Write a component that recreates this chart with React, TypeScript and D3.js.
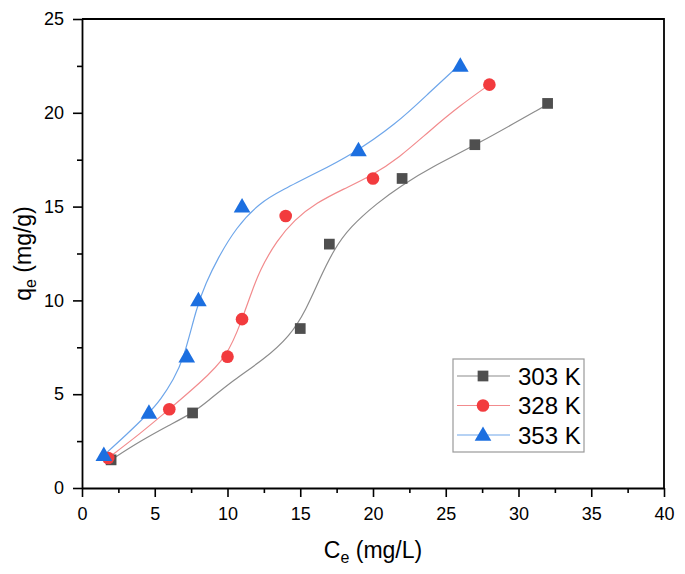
import React, { useEffect, useRef } from 'react';
import * as d3 from 'd3';

const W = 685;
const H = 574;

const xTicks = [0, 5, 10, 15, 20, 25, 30, 35, 40];
const yTicks = [0, 5, 10, 15, 20, 25];
const xMinor = [2.5, 7.5, 12.5, 17.5, 22.5, 27.5, 32.5, 37.5];
const yMinor = [2.5, 7.5, 12.5, 17.5, 22.5];

// measured points
const ce303 = [2, 7.6, 15, 17, 22, 27, 32];
const qe303 = [1.5, 4, 8.5, 13, 16.5, 18.3, 20.5];
const ce328 = [1.8, 6, 10, 11, 14, 20, 28];
const qe328 = [1.6, 4.2, 7, 9, 14.5, 16.5, 21.5];
const ce353 = [1.5, 4.6, 7.2, 8, 11, 19, 26];
const qe353 = [1.75, 4, 7, 10, 15, 18, 22.5];

// fitted curves, traced as (Ce, qe) pairs
const fitCe303 = [2, 4, 6, 7.6, 8.6, 10.4, 12.5, 14.3, 15.4, 16.3, 17.3, 18.4, 20.3, 21.9, 24, 27, 32];
const fitQe303 = [1.5, 2.5, 3.35, 4.0, 4.6, 5.75, 6.85, 8.1, 9.5, 11.1, 12.7, 13.9, 15.2, 16.1, 17.1, 18.25, 20.45];
const fitCe328 = [1.8, 4, 6, 8.1, 10, 11, 11.6, 12.2, 13.4, 14.6, 16.1, 18, 19.8, 21.8, 23.9, 26, 28];
const fitQe328 = [1.6, 2.9, 4.2, 5.6, 7.0, 9.0, 10.3, 11.6, 13.2, 14.3, 15.2, 15.95, 16.6, 17.6, 19.05, 20.4, 21.5];
const fitCe353 = [1.5, 3, 4.6, 5.4, 6.3, 7.0, 7.9, 8.5, 9.3, 10.6, 12.2, 13.8, 16.1, 18.4, 21.6, 23.9, 26];
const fitQe353 = [1.75, 2.8, 4.0, 4.7, 5.8, 6.9, 9.7, 10.9, 12.2, 13.9, 15.2, 15.9, 16.8, 17.7, 19.4, 21.1, 22.6];

const seriesNames = ['303 K', '328 K', '353 K'];
const markerColors = ['#4f4f4f', '#f23b3e', '#1c6fe0'];
const lineColors = ['#8c8c8c', '#f28b8d', '#6ea6ea'];
const symbols = [d3.symbolSquare, d3.symbolCircle, d3.symbolTriangle];
const symbolSizes = [115, 125, 120];

const FONT = 'Arial, "Liberation Sans", sans-serif';

const App = () => {
  const svgRef = useRef<SVGSVGElement>(null);

  useEffect(() => {
    const svg = d3.select(svgRef.current);
    svg.selectAll('*').remove();

    const left = 82, right = 664, top = 19, bottom = 488;
    const x = d3.scaleLinear().domain([0, 40]).range([left, right]);
    const y = d3.scaleLinear().domain([0, 25]).range([bottom, top]);

    // frame
    svg.append('path')
      .attr('d', `M${left},${top}H${right}V${bottom}`)
      .attr('fill', 'none')
      .attr('stroke', '#000')
      .attr('stroke-width', 1.8);

    const styleAxis = (g) => {
      g.attr('font-family', FONT).attr('font-size', 18);
      g.selectAll('.domain').attr('stroke-width', 1.8);
      g.selectAll('.tick line').attr('stroke-width', 1.6);
      g.selectAll('text').attr('fill', '#000');
    };

    svg.append('g')
      .attr('transform', `translate(0,${bottom})`)
      .call(d3.axisBottom(x).tickValues(xMinor).tickSize(5).tickFormat(() => ''))
      .call(g => g.select('.domain').remove())
      .call(styleAxis);
    svg.append('g')
      .attr('transform', `translate(${left},0)`)
      .call(d3.axisLeft(y).tickValues(yMinor).tickSize(5).tickFormat(() => ''))
      .call(g => g.select('.domain').remove())
      .call(styleAxis);

    svg.append('g')
      .attr('transform', `translate(0,${bottom})`)
      .call(d3.axisBottom(x).tickValues(xTicks).tickSize(9).tickSizeOuter(0).tickPadding(10))
      .call(styleAxis);
    svg.append('g')
      .attr('transform', `translate(${left},0)`)
      .call(d3.axisLeft(y).tickValues(yTicks).tickSize(9).tickSizeOuter(0).tickPadding(9))
      .call(styleAxis);

    // axis titles
    const xt = svg.append('text')
      .attr('x', (left + right) / 2)
      .attr('y', 558)
      .attr('text-anchor', 'middle')
      .attr('font-family', FONT)
      .attr('font-size', 23);
    xt.append('tspan').text('C');
    xt.append('tspan').attr('font-size', 16).attr('dy', 5).text('e');
    xt.append('tspan').attr('dy', -5).text(' (mg/L)');

    const yt = svg.append('text')
      .attr('transform', `translate(31,${(top + bottom) / 2}) rotate(-90)`)
      .attr('text-anchor', 'middle')
      .attr('font-family', FONT)
      .attr('font-size', 23);
    yt.append('tspan').text('q');
    yt.append('tspan').attr('font-size', 16).attr('dy', 5).text('e');
    yt.append('tspan').attr('dy', -5).text(' (mg/g)');

    const fits = [
      d3.zip(fitCe303, fitQe303),
      d3.zip(fitCe328, fitQe328),
      d3.zip(fitCe353, fitQe353),
    ];
    const points = [
      d3.zip(ce303, qe303),
      d3.zip(ce328, qe328),
      d3.zip(ce353, qe353),
    ];

    const line = d3.line()
      .x(d => x(d[0]))
      .y(d => y(d[1]))
      .curve(d3.curveBasis);

    fits.forEach((f, i) => {
      svg.append('path')
        .datum(f)
        .attr('fill', 'none')
        .attr('stroke', lineColors[i])
        .attr('stroke-width', 1.2)
        .attr('d', line);
    });

    points.forEach((pts, i) => {
      const sym = d3.symbol().type(symbols[i]).size(symbolSizes[i]);
      svg.append('g')
        .selectAll('path')
        .data(pts)
        .join('path')
        .attr('transform', d => `translate(${x(d[0])},${y(d[1]) + (i === 2 ? 1 : 0)})`)
        .attr('d', sym)
        .attr('fill', markerColors[i]);
    });

    // legend
    const lg = svg.append('g').attr('transform', 'translate(453,359)');
    lg.append('rect')
      .attr('width', 131)
      .attr('height', 93)
      .attr('fill', '#fff')
      .attr('stroke', '#9a9a9a')
      .attr('stroke-width', 1.2);
    seriesNames.forEach((name, i) => {
      const row = lg.append('g').attr('transform', `translate(0,${17 + i * 29.5})`);
      row.append('line')
        .attr('x1', 4).attr('x2', 57)
        .attr('stroke', lineColors[i])
        .attr('stroke-width', 1.2);
      row.append('path')
        .attr('transform', `translate(30,${i === 2 ? 1 : 0})`)
        .attr('d', d3.symbol().type(symbols[i]).size(symbolSizes[i])())
        .attr('fill', markerColors[i]);
      row.append('text')
        .attr('x', 65)
        .attr('y', 8.6)
        .attr('font-family', FONT)
        .attr('font-size', 24)
        .text(name);
    });
  }, []);

  return (
    <svg
      ref={svgRef}
      width={W}
      height={H}
      style={{ position: 'absolute', left: 0, top: 0, background: '#fff' }}
    />
  );
};

export default App;
